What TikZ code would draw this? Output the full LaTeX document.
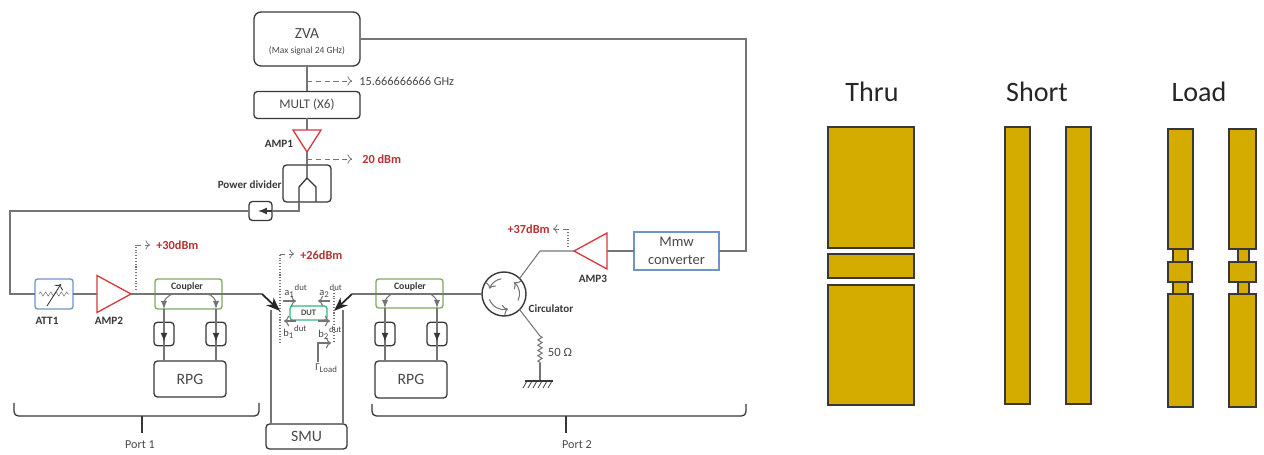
\documentclass[tikz,border=0pt]{standalone}
\usepackage{fontspec}
\setmainfont{Carlito}
\usetikzlibrary{shapes.geometric,arrows,arrows.meta,positioning,decorations.pathmorphing}

\definecolor{wiregray}{HTML}{757575}
\definecolor{boxdark}{HTML}{383838}
\definecolor{ampred}{HTML}{D9383A}
\definecolor{attblue}{HTML}{6F95C8}
\definecolor{cpgreen}{HTML}{7FA860}
\definecolor{dutgreen}{HTML}{2FB87C}
\definecolor{padgold}{HTML}{D4AC00}
\definecolor{textgray}{HTML}{484848}

\tikzset{
    box/.style={rectangle, draw=boxdark, line width=0.75pt, rounded corners=2pt, inner sep=0pt, outer sep=0pt, align=center, text=textgray},
    colorbox/.style={rectangle, draw=#1, line width=0.75pt, rounded corners=1.5pt, inner sep=0pt, outer sep=0pt, align=center, text=textgray},
    isobox/.style={box, minimum width=0.4cm, minimum height=0.47cm},
    amp/.style={isosceles triangle, isosceles triangle stretches, anchor=apex, draw=ampred, line width=0.75pt, inner sep=0pt, outer sep=0pt},
    wire/.style={draw=wiregray, line width=0.6pt},
    inwire/.style={draw=boxdark, line width=0.75pt},
    probe/.style={draw=wiregray, line width=0.45pt, densely dashed, ->},
    dotline/.style={draw=wiregray, line width=0.6pt, densely dotted},
    bigarrow/.style={draw=black!85, line width=1pt, -{Stealth[length=8pt,width=6pt]}},
    note/.style={inner sep=0pt, text=textgray, font=\fontsize{#1}{#1}\selectfont},
    boldnote/.style={inner sep=0pt, text=boxdark, font=\fontsize{#1}{#1}\selectfont\bfseries},
    rednote/.style={inner sep=0pt, text=ampred!85!black, font=\fontsize{7}{8}\selectfont\bfseries},
    pad/.style={draw=boxdark, line width=1pt, fill=padgold},
    title/.style={inner sep=0pt, text=black!85, font=\fontsize{16}{18}\selectfont},
}

\begin{document}
\begin{tikzpicture}[x=0.02cm, y=-0.02cm]
    \useasboundingbox (0,0) rectangle (1264,455);

    \node (zva) [box, minimum width=2.12cm, minimum height=1.08cm, rounded corners=4pt] at (307,39) {\rule{0pt}{9pt}\fontsize{8.8}{10}\selectfont ZVA\\[-3.5pt]\fontsize{5.4}{6}\selectfont (Max signal 24 GHz)};
    \node (mult) [box, minimum width=2.12cm, minimum height=0.54cm, below of=zva, node distance=1.32cm, font=\fontsize{7.5}{8}\selectfont] {MULT (X6)};
    \node (amp1) [amp, shape border rotate=-90, minimum width=0.56cm, minimum height=0.44cm] at (307,152) {};
    \node (pdiv) [box, minimum width=0.96cm, minimum height=0.74cm] at (307,183.5) {};
    \node (isop) [box, minimum width=0.46cm, minimum height=0.38cm] at (260.5,211) {};
    \node (att1) [colorbox=attblue, minimum width=0.76cm, minimum height=0.6cm] at (54,294) {};
    \node (amp2) [amp, minimum width=0.74cm, minimum height=0.68cm] at (131,294) {};
    \node (coup1) [colorbox=cpgreen, minimum width=1.34cm, minimum height=0.6cm] at (188.5,294) {};
    \node (isoa1) [isobox] at (164,334) {};
    \node (isob1) [isobox, right of=isoa1, node distance=1.04cm] {};
    \node (rpg1) [box, minimum width=1.44cm, minimum height=0.72cm, font=\fontsize{9}{10}\selectfont] at (190,379) {RPG};
    \node (dut) [colorbox=dutgreen, minimum width=0.74cm, minimum height=0.28cm, font=\fontsize{4.8}{5}\selectfont\bfseries] at (308.5,313) {DUT};
    \node (smu) [box, minimum width=1.62cm, minimum height=0.5cm, font=\fontsize{9}{10}\selectfont] at (306.5,436.5) {SMU};
    \node (coup2) [colorbox=cpgreen, minimum width=1.34cm, minimum height=0.58cm] at (409.5,293.5) {};
    \node (isoa2) [isobox] at (385,334) {};
    \node (isob2) [isobox, right of=isoa2, node distance=1.04cm] {};
    \node (rpg2) [box, minimum width=1.44cm, minimum height=0.74cm, font=\fontsize{9}{10}\selectfont] at (411,379.5) {RPG};
    \node (circ) [circle, draw=boxdark, line width=0.8pt, minimum size=0.88cm, inner sep=0pt, outer sep=0pt] at (504,294) {};
    \node (amp3) [amp, shape border rotate=180, minimum width=0.72cm, minimum height=0.66cm] at (574,251) {};
    \node (mmw) [colorbox=attblue, rounded corners=0pt, minimum width=1.7cm, minimum height=0.76cm, font=\fontsize{8.3}{10.2}\selectfont] at (676.5,251) {Mmw\\converter};

    \coordinate (fork) at (307,178);
    \coordinate (forkl) at (299,187);
    \coordinate (forkr) at (316,187);
    \coordinate (corneratt) at (10,294);
    \coordinate (cornerzva) at (746,39);
    \coordinate (bend1) at (262,294);
    \coordinate (tip1) at (280,311);
    \coordinate (bend2) at (352,294);
    \coordinate (tip2) at (334,311);
    \coordinate (bend3) at (540,251);
    \coordinate (loadtop) at (540,336);
    \coordinate (loadbot) at (540,363);
    \coordinate (gnd) at (540,381);

    \draw[wire] (zva) -- (mult);
    \draw[wire] (mult) -- (amp1);
    \draw[wire] (amp1.apex) -- (pdiv.north);
    \draw[inwire] (pdiv.north) -- (fork) -- (forkl) -- (forkl |- pdiv.south);
    \draw[inwire] (fork) -- (forkr) -- (forkr |- pdiv.south);
    \draw[wire] (forkl |- pdiv.south) |- (isop.east);
    \draw[wire] (isop.west) -| (corneratt) -- (att1.west);
    \draw[inwire, -latex] (isop.east) -- ([xshift=-0.28cm]isop.east);
    \draw[wire] (att1) -- (amp2);
    \draw[wire] (amp2.apex) -- (bend1);
    \draw[bigarrow] (bend1) -- (tip1);
    \draw[wire] (circ.west) -- (bend2);
    \draw[bigarrow] (bend2) -- (tip2);
    \draw[wire] (circ.45) -- (bend3) -- (amp3.apex);
    \draw[wire] (amp3.east) -- (mmw.west);
    \draw[wire] (mmw.east) -| (cornerzva) -- (zva.east);
    \draw[wire] (circ.-45) -- (loadtop);
    \draw[wire, decorate, decoration={zigzag, amplitude=1.2pt, segment length=3pt}] (loadtop) -- (loadbot);
    \draw[wire] (loadbot) -- (gnd);
    \draw[boxdark, line width=0.6pt] (525,381) -- (553,381);
    \foreach \x in {527,532,537,542,547,552} {
        \draw[boxdark, line width=0.45pt] (\x,381) -- ++(-4,7);
    }

    \foreach \c/\i/\s/\r/\a in {coup1/isoa1/-0.28cm/rpg1/180, coup1/isob1/0.36cm/rpg1/0, coup2/isoa2/-0.29cm/rpg2/180, coup2/isob2/0.35cm/rpg2/0} {
        \draw[wire] (\i.north |- \r.north) -- (\i.north |- \c.south);
        \draw[inwire, -latex] (\i.center) -- ([yshift=0.08cm]\i.south);
        \draw[wire, -latex] ([xshift=\s]\c.center) to[out=\a, in=90] (\i.north |- \c.south);
    }

    \draw[wire, line width=0.3pt, decorate, decoration={zigzag, amplitude=1.2pt, segment length=3pt}] ([xshift=0.08cm]att1.west) -- ([xshift=-0.08cm]att1.east);
    \draw[inwire, ->, line width=0.5pt] ([shift={(-0.14cm,-0.24cm)}]att1.center) -- ([shift={(0.14cm,0.2cm)}]att1.center);

    \draw[wiregray, line width=0.6pt, ->] ([shift={(100:0.31cm)}]circ.center) arc[start angle=100, end angle=160, radius=0.31cm];
    \draw[wiregray, line width=0.6pt, ->] ([shift={(200:0.31cm)}]circ.center) arc[start angle=200, end angle=285, radius=0.31cm];
    \draw[wiregray, line width=0.6pt, ->] ([shift={(-25:0.31cm)}]circ.center) arc[start angle=-25, end angle=50, radius=0.31cm];

    \coordinate (probez) at (307,81);
    \coordinate (probeze) at (352,81);
    \coordinate (probea) at (307,159);
    \coordinate (probeae) at (352,159);
    \draw[probe] (probez) -- (probeze);
    \draw[probe] (probea) -- (probeae);

    \coordinate (dot1s) at (136,290);
    \coordinate (dot1m) at (136,245);
    \coordinate (dot1e) at (150,245);
    \draw[dotline] (dot1s) -- (dot1m);
    \draw[probe] (dot1m) -- (dot1e);
    \coordinate (dot2s) at (280,343);
    \coordinate (dot2m) at (280,254);
    \coordinate (dot2e) at (294,254);
    \draw[dotline] (dot2s) -- (dot2m);
    \draw[probe] (dot2m) -- (dot2e);
    \coordinate (dot3s) at (334,290);
    \coordinate (dot3e) at (334,343);
    \draw[dotline] (dot3s) -- (dot3e);
    \coordinate (dot4s) at (568,247);
    \coordinate (dot4m) at (568,229);
    \coordinate (dot4e) at (553,229);
    \draw[dotline] (dot4s) -- (dot4m);
    \draw[probe] (dot4m) -- (dot4e);

    \coordinate (a1s) at (283,301);
    \coordinate (a1e) at (296,301);
    \coordinate (a2s) at (330,301);
    \coordinate (a2e) at (318,301);
    \coordinate (b1s) at (296,321);
    \coordinate (b1e) at (284,321);
    \coordinate (b2s) at (318,321);
    \coordinate (b2e) at (330,321);
    \coordinate (gams) at (318,362);
    \coordinate (gamm) at (318,343);
    \coordinate (game) at (331,343);
    \draw[wire, ->] (a1s) -- (a1e);
    \draw[wire, ->] (a2s) -- (a2e);
    \draw[wire, ->] (b1s) -- (b1e);
    \draw[wire, ->] (b2s) -- (b2e);
    \draw[wire, ->] (gams) -- (gamm) -- (game);

    \coordinate (smul) at (271,310);
    \coordinate (smur) at (343,310);
    \draw[wire, line width=0.8pt] (smul) -- (smul |- smu.north);
    \draw[wire, line width=0.8pt] (smur) -- (smur |- smu.north);

    \coordinate (br1l) at (14,403);
    \coordinate (br1c) at (142,416);
    \coordinate (br1r) at (259,403);
    \node (port1) [note=6.9] at (140,445) {Port 1};
    \draw[inwire, rounded corners=2.5pt] (br1l) |- (br1c) -| (br1r);
    \draw[inwire] (br1c) -- (142,433);
    \coordinate (br2l) at (372,404);
    \coordinate (br2c) at (566,416);
    \coordinate (br2r) at (746,404);
    \node (port2) [note=6.9] at (577,445) {Port 2};
    \draw[inwire, rounded corners=2.5pt] (br2l) |- (br2c) -| (br2r);
    \draw[inwire] (br2c) -- (566,433);

    \node (lblghz) [note=7, anchor=west] at (359,81) {15.666666666 GHz};
    \node (lblamp1) [boldnote=6.4] at (279,144) {AMP1};
    \node (lbl20) [rednote, anchor=west] at (362,159.5) {20 dBm};
    \node (lblpdiv) [boldnote=6.3, anchor=east] at (282,185) {Power divider};
    \node (lbl30) [rednote, anchor=west] at (156,245) {+30dBm};
    \node (lblatt) [boldnote=6.4] at (47,321) {ATT1};
    \node (lblamp2) [boldnote=6.4] at (109,321) {AMP2};
    \node (lblcoup1) [boldnote=5.6] at (187,287) {Coupler};
    \node (lblcoup2) [boldnote=5.6] at (410,287) {Coupler};
    \node (lbl26) [rednote, anchor=west] at (300,255) {+26dBm};
    \node (lbl37) [rednote, anchor=east] at (550,229.5) {+37dBm};
    \node (lblamp3) [boldnote=6.4] at (593,279) {AMP3};
    \node (lblcirc) [boldnote=6.3] at (551,309) {Circulator};
    \node (lblfifty) [note=7.2] at (560,352) {50 Ω};
    \node (lbla1) [note=6, anchor=west] at (284,291) {a\textsubscript{1}\textsuperscript{dut}};
    \node (lbla2) [note=6, anchor=west] at (319,291) {a\textsubscript{2}\textsuperscript{dut}};
    \node (lblb1) [note=6, anchor=west] at (283,332) {b\textsubscript{1}\textsuperscript{dut}};
    \node (lblb2) [note=6, anchor=west] at (318,333) {b\textsubscript{2}\textsuperscript{dut}};
    \node (lblgam) [note=6, anchor=west] at (315,368) {Γ\textsubscript{Load}};

    \draw[pad] (828,127) rectangle (914,248);
    \draw[pad] (828,254) rectangle (914,278);
    \draw[pad] (828,285) rectangle (914,405);
    \draw[pad] (1005,127) rectangle (1030,404);
    \draw[pad] (1066,127) rectangle (1091,404);
    \draw[pad] (1173,249) rectangle (1188,294);
    \draw[pad] (1168,129) rectangle (1193,249);
    \draw[pad] (1168,262) rectangle (1192,282);
    \draw[pad] (1168,294) rectangle (1193,407);
    \draw[pad] (1238,249) rectangle (1249,294);
    \draw[pad] (1229,129) rectangle (1256,249);
    \draw[pad] (1229,262) rectangle (1256,282);
    \draw[pad] (1229,294) rectangle (1256,407);

    \node (thru) [title] at (872,92) {Thru};
    \node (short) [title] at (1037,92) {Short};
    \node (load) [title] at (1199,92) {Load};
\end{tikzpicture}
\end{document}
